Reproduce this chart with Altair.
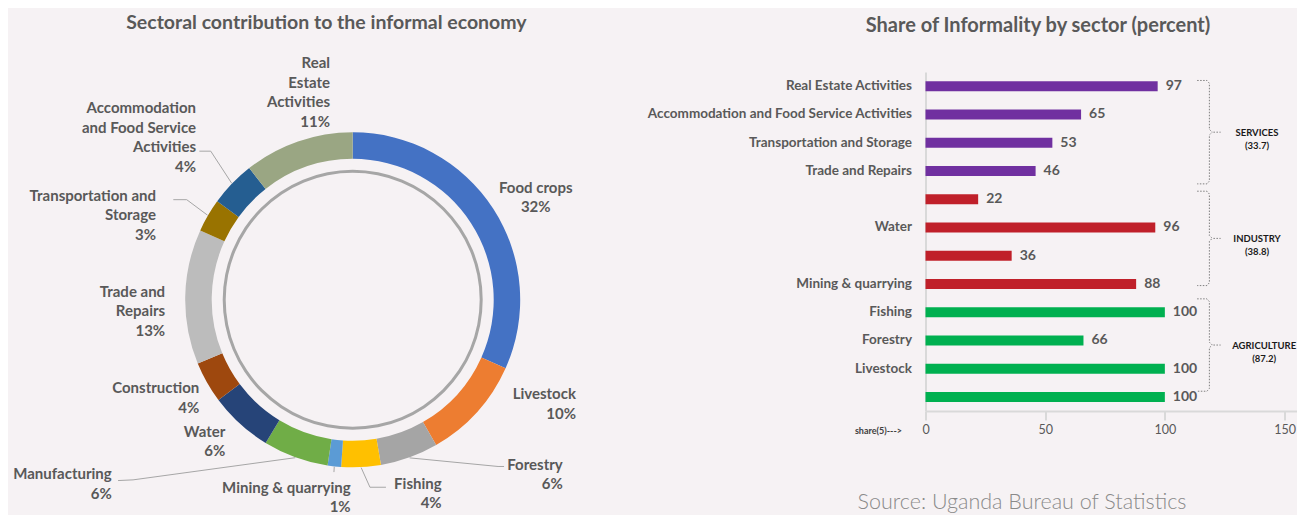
import math
import altair as alt
import pandas as pd

# ---------------- data: donut (sectoral contribution, %) ----------------
SECTORS = ["Food crops", "Livestock", "Forestry", "Fishing", "Mining & quarrying",
           "Manufacturing", "Water", "Construction", "Trade and Repairs",
           "Transportation and Storage", "Accommodation and Food Service Activities",
           "Real Estate Activities"]
SHARES = [31.7, 10.0, 5.6, 3.8, 1.3, 6.3, 6.1, 4.0, 13.0, 3.2, 4.4, 10.6]
SECTOR_COLORS = ["#4472c4", "#ed7d31", "#a5a5a5", "#ffc000", "#5b9bd5", "#70ad47",
                 "#264478", "#9e480e", "#bcbcbc", "#997300", "#255e91", "#9aa683"]
LABEL_TEXT = ["Food crops", "Livestock", "Forestry", "Fishing", "Mining & quarrying",
              "Manufacturing", "Water", "Construction", "Trade and|Repairs",
              "Transportation and|Storage", "Accommodation|and Food Service|Activities",
              "Real|Estate|Activities"]

# ---------------- data: bars (share of informality, %) ----------------
BAR_SECTORS = ["Real Estate Activities", "Accommodation and Food Service Activities",
               "Transportation and Storage", "Trade and Repairs", "Construction", "Water",
               "Manufacturing", "Mining & quarrying", "Fishing", "Forestry", "Livestock",
               "Food crops"]
BAR_VALUES = [97, 65, 53, 46, 22, 96, 36, 88, 100, 66, 100, 100]
BAR_GROUPS = ["Services"] * 4 + ["Industry"] * 4 + ["Agriculture"] * 4
HIDDEN_BAR_LABELS = ["Construction", "Manufacturing", "Food crops"]
GROUP_KEYS = ["Services", "Industry", "Agriculture"]
GROUP_NAMES = ["SERVICES", "INDUSTRY", "AGRICULTURE"]
GROUP_SHARES = [33.7, 38.8, 87.2]
GROUP_COLORS = ["#7030a0", "#c0202a", "#00b050"]
X_TICKS = [0, 50, 100, 150]

LEFT_TITLE = "Sectoral contribution to the informal economy"
RIGHT_TITLE = "Share of Informality by sector (percent)"
SOURCE = "Source: Uganda Bureau of Statistics"
X_AXIS_TITLE = "share(5)--->"

# ---------------- layout / style ----------------
FONT = "Lato"
GREY = "#595959"
BG = "#f6f2f4"
LEFT_W, PANEL_H, GAP, RIGHT_W, X_MAX = 600, 339, 317.5, 371, 155
CX, CY = 344.7, 227.8
R_OUT, R_IN = 167.5, 141
R_CIRC_IN, R_CIRC_OUT = 127, 130
R_LABEL = 200
LABEL_NUDGE = {
    "Food crops": (15.2, -3.8), "Livestock": (74.9, -40.1), "Forestry": (142.3, -23.5),
    "Fishing": (78.9, -16.3), "Mining & quarrying": (19.9, -11.0),
    "Manufacturing": (-172.6, -13.9), "Water": (7.2, -16.5), "Construction": (20.6, -10.5),
    "Trade and Repairs": (12.4, -4.5), "Transportation and Storage": (-23.9, -3.7),
    "Accommodation and Food Service Activities": (-12.6, -53.3),
    "Real Estate Activities": (42.7, -48.0),
}
CENTERED_LABELS = ["Food crops"]
LEADERS = {
    "Accommodation and Food Service Activities": [(14.7, 43.4), (3.3, 43.4)],
    "Transportation and Storage": [(30.7, 4.3), (17.3, 4.3)],
    "Manufacturing": [(21.3, 6.0), (6.3, 6.7)],
    "Mining & quarrying": [(-16.7, -15.5)],
    "Fishing": [(-71.7, 4.0), (-55.7, 4.0)],
    "Forestry": [(-64.7, 2.0), (-58.7, 2.0)],
}
BRACKET_SPANS = [(0.30, 3.96), (4.22, 7.56), (8.03, 11.30)]
B_HOOK, B_SPINE, B_TIP, B_DASH0, B_DASH1 = 113.5, 118.6, 119.8, 120.3, 123.3
GROUP_LABEL_X = [138.5, 138.5, 141.5]

# ---------------- build tables ----------------
total = sum(SHARES)
donut_rows, label_rows, leader_rows = [], [], []
cum = 0.0
for i, (name, share) in enumerate(zip(SECTORS, SHARES)):
    mid = 2 * math.pi * (cum + share / 2) / total
    cum += share
    donut_rows.append(dict(sector=name, share=share, idx=i))
    nx, ny = LABEL_NUDGE[name]
    ax = CX + R_LABEL * math.sin(mid) + nx
    ay = CY - R_LABEL * math.cos(mid) + ny
    label_rows.append(dict(sector=name, lines=LABEL_TEXT[i], share=share,
                           lx=ax, ly=ay + 5.4, centered=name in CENTERED_LABELS))
    if name in LEADERS:
        pts = [(CX + (R_OUT + 0.5) * math.sin(mid), CY - (R_OUT + 0.5) * math.cos(mid))]
        pts += [(ax + dx, ay + dy) for dx, dy in LEADERS[name]]
        for j, (px, py) in enumerate(pts):
            leader_rows.append(dict(leader=name, seq=j, lx=px, ly=py))

donut_df = pd.DataFrame(donut_rows)
label_df = pd.DataFrame(label_rows)
leader_df = pd.DataFrame(leader_rows)
one = pd.DataFrame({"k": [0]})

bar_df = pd.DataFrame({"sector": BAR_SECTORS, "value": BAR_VALUES, "group": BAR_GROUPS})

br_rows, glab_rows = [], []
for k, (t, b) in enumerate(BRACKET_SPANS):
    m = (t + b) / 2
    pts = [(B_HOOK, t), (B_SPINE - 1, t), (B_SPINE, t + 0.1), (B_SPINE, m - 0.1), (B_TIP, m),
           (B_SPINE, m + 0.1), (B_SPINE, b - 0.1), (B_SPINE - 1, b), (B_HOOK, b)]
    for j, (px, py) in enumerate(pts):
        br_rows.append(dict(key=f"b{k}", seq=j, value=px, ry=py))
    br_rows.append(dict(key=f"d{k}", seq=0, value=B_DASH0, ry=m))
    br_rows.append(dict(key=f"d{k}", seq=1, value=B_DASH1, ry=m))
    glab_rows.append(dict(name=GROUP_NAMES[k], share=GROUP_SHARES[k],
                          value=GROUP_LABEL_X[k], ry=m))
br_df = pd.DataFrame(br_rows)
glab_df = pd.DataFrame(glab_rows)

# ---------------- left panel: donut ----------------
xs = alt.Scale(domain=[0, LEFT_W], nice=False, zero=False)
ys = alt.Scale(domain=[0, PANEL_H], nice=False, zero=False, reverse=True)

ring = alt.Chart(donut_df).mark_arc(innerRadius=R_IN, outerRadius=R_OUT).encode(
    theta=alt.Theta("share:Q", stack=True),
    order=alt.Order("idx:Q", sort="ascending"),
    color=alt.Color("sector:N", scale=alt.Scale(domain=SECTORS, range=SECTOR_COLORS), legend=None),
    x=alt.value(CX), y=alt.value(CY),
)
circle = alt.Chart(one).mark_arc(
    innerRadius=R_CIRC_IN, outerRadius=R_CIRC_OUT, theta=0, theta2=2 * math.pi, color="#a6a6a6"
).encode(x=alt.value(CX), y=alt.value(CY))

leaders = alt.Chart(leader_df).mark_line(color="#a6a6a6", strokeWidth=1).encode(
    x=alt.X("lx:Q", scale=xs, axis=None),
    y=alt.Y("ly:Q", scale=ys, axis=None),
    detail="leader:N", order="seq:Q",
)

lab_base = alt.Chart(label_df).transform_calculate(
    txt="datum.lines + '|' + format(datum.share, '.0f') + '%'"
)
lab_style = dict(baseline="alphabetic", lineBreak="|", lineHeight=19.5, font=FONT,
                 fontSize=15, fontWeight="bold", color=GREY)
lab_enc = dict(x=alt.X("lx:Q", scale=xs, axis=None), y=alt.Y("ly:Q", scale=ys, axis=None),
               text="txt:N")
labels_r = lab_base.transform_filter("!datum.centered").mark_text(align="right", **lab_style).encode(**lab_enc)
labels_c = lab_base.transform_filter("datum.centered").mark_text(align="center", **lab_style).encode(**lab_enc)

ltitle = alt.Chart(one).mark_text(text=LEFT_TITLE, font=FONT, fontSize=19.5, fontWeight="bold",
                                  color=GREY, align="center", baseline="middle").encode(
    x=alt.value(318.4), y=alt.value(-49.5))

left = alt.layer(ring, circle, leaders, labels_r, labels_c, ltitle).properties(
    width=LEFT_W, height=PANEL_H)

# ---------------- right panel: bars ----------------
xsc = alt.Scale(domain=[0, X_MAX], nice=False, zero=True)
ysc = alt.Scale(domain=BAR_SECTORS, paddingInner=0, paddingOuter=0)
hidden = "[" + ",".join("'" + h + "'" for h in HIDDEN_BAR_LABELS) + "]"
xaxis = alt.Axis(values=X_TICKS, title=X_AXIS_TITLE, titleX=-24, titleY=19, titleAlign="right",
                 titleBaseline="middle", titleFont=FONT, titleFontSize=9, titleFontWeight="bold",
                 titleColor="#404040", labelFont=FONT, labelFontSize=12.5, labelColor=GREY,
                 labelPadding=3, tickSize=9, tickColor="#d9d9d9", tickWidth=2,
                 domainColor="#d9d9d9", domainWidth=2, grid=False, labelFlush=False)
yaxis = alt.Axis(title=None, labelExpr=f"indexof({hidden}, datum.value) >= 0 ? '' : datum.value",
                 labelFont=FONT, labelFontSize=13.5, labelFontWeight="bold", labelColor=GREY,
                 labelPadding=14, ticks=False, domainColor="#d9d9d9", domainWidth=2,
                 labelLimit=400, grid=False)

bars = alt.Chart(bar_df).mark_bar(size=10).encode(
    x=alt.X("value:Q", scale=xsc, axis=xaxis),
    y=alt.Y("sector:N", scale=ysc, axis=yaxis),
    color=alt.Color("group:N", scale=alt.Scale(domain=GROUP_KEYS, range=GROUP_COLORS), legend=None),
)
vals = alt.Chart(bar_df).mark_text(align="left", baseline="middle", dx=8, font=FONT, fontSize=14,
                                   fontWeight="bold", color=GREY).encode(
    x=alt.X("value:Q", scale=xsc, axis=xaxis),
    y=alt.Y("sector:N", scale=ysc, axis=yaxis),
    text="value:Q",
)
bar_layer = alt.layer(bars, vals)

rys = alt.Scale(domain=[0, 12], nice=False, zero=False, reverse=True)
brackets = alt.Chart(br_df).mark_line(color="#7f7f7f", strokeWidth=1, strokeDash=[1.5, 1.5]).encode(
    x=alt.X("value:Q", scale=xsc, axis=xaxis),
    y=alt.Y("ry:Q", scale=rys, axis=None),
    detail="key:N", order="seq:Q",
)
glabels = alt.Chart(glab_df).transform_calculate(
    txt="datum.name + '|(' + format(datum.share, '.1f') + ')'"
).mark_text(align="center", baseline="alphabetic", lineBreak="|", lineHeight=13, dy=3.5,
            font=FONT, fontSize=9.5, fontWeight="bold", color="#1a1a1a").encode(
    x=alt.X("value:Q", scale=xsc, axis=xaxis),
    y=alt.Y("ry:Q", scale=rys, axis=None),
    text="txt:N",
)
bracket_layer = alt.layer(brackets, glabels)

rtitle = alt.Chart(one).mark_text(text=RIGHT_TITLE, font=FONT, fontSize=20, fontWeight="bold",
                                  color=GREY, align="center", baseline="middle").encode(
    x=alt.value(112.5), y=alt.value(-46))
source = alt.Chart(one).mark_text(text=SOURCE, font=FONT, fontSize=21.5, fontWeight=300,
                                  color="#8a8a8a", align="center", baseline="middle").encode(
    x=alt.value(96.5), y=alt.value(430.5))

right = alt.layer(bar_layer, bracket_layer, rtitle, source).resolve_scale(y="independent").properties(
    width=RIGHT_W, height=PANEL_H)

chart = alt.hconcat(left, right, spacing=GAP, bounds="flush").resolve_scale(
    color="independent"
).properties(
    background=BG, padding={"left": 0, "top": 4, "right": 0, "bottom": 0}
).configure(font=FONT, view=alt.ViewConfig(stroke=None))

chart.save("out.html", embed_options={"renderer": "svg", "actions": False})
